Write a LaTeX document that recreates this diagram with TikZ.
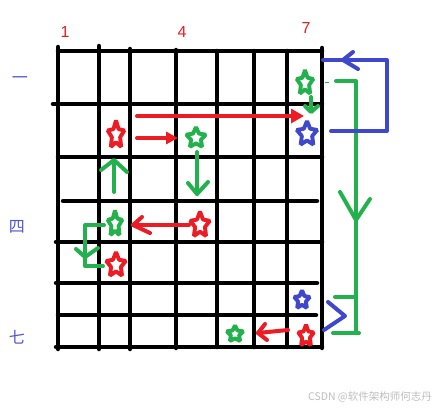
\documentclass[tikz,border=0pt]{standalone}
\usepackage{fontspec}
\setmainfont{Liberation Sans}
\newfontfamily\cjk{Noto Sans CJK SC}
\usetikzlibrary{shapes.geometric,arrows.meta}
\definecolor{pred}{RGB}{237,28,36}
\definecolor{pgreen}{RGB}{34,177,76}
\definecolor{pblue}{RGB}{63,72,204}
\definecolor{lblue}{RGB}{80,88,208}
\definecolor{wm}{RGB}{190,190,190}
\begin{document}
\begin{tikzpicture}[x=1pt,y=-1pt,
  gridline/.style={line width=4.5pt, line cap=round},
  pen/.style={line width=4pt, line cap=round, line join=round},
  st/.style={star, star points=5, star point ratio=2.0, minimum size=20pt, inner sep=0pt, draw, line width=3.9pt, line join=bevel, transform shape},
  num/.style={text=pred, font=\fontsize{16}{16}\selectfont},
  cn/.style={text=lblue, font=\cjk\fontsize{16}{16}\selectfont}]
\fill[white] (0,0) rectangle (433,410);
\useasboundingbox (0,0) rectangle (433,410);
% grid verticals
\draw[gridline] (58,47) -- (58,349);
\draw[gridline] (99,46) -- (99,349);
\draw[gridline] (130,49) -- (130,349);
\draw[gridline] (176,50) -- (176,348);
\draw[gridline] (217,51) -- (217,347);
\draw[gridline] (254,51) -- (254,347);
\draw[gridline] (287,51) -- (287,347);
\draw[gridline] (322,48) -- (322,348);
% grid horizontals
\draw[gridline] (58,51) -- (322,51);
\draw[gridline] (53,104) -- (322,104);
\draw[gridline] (58,157) -- (322,157);
\draw[gridline] (63,201) -- (317,201);
\draw[gridline] (56,242) -- (322,242);
\draw[gridline] (56,283) -- (317,283);
\draw[gridline] (58,315) -- (316,315);
\draw[gridline] (56,347) -- (322,347);
% labels
\node[num] (n1) at (65,32) {1};
\node[num] (n4) at (182,32) {4};
\node[num] (n7) at (306,28) {7};
\node[cn] (c1) at (20,80) {一};
\node[cn] (c4) at (17,227) {四};
\node[cn] (c7) at (17,337) {七};
% stars
\node[st, pgreen, xscale=0.87, yscale=1.3] (g1) at (305,83) {};
\node[st, pblue, xscale=1.08, yscale=1.3] (b1) at (307,134) {};
\node[st, pred, xscale=0.87, yscale=1.46] (r1) at (116,135) {};
\node[st, pgreen, xscale=1.03, yscale=1.08] (g2) at (196,138) {};
\node[st, pgreen, xscale=0.76, yscale=1.35] (g3) at (115,224) {};
\node[st, pred, xscale=1.03, yscale=1.35] (r2) at (200,225) {};
\node[st, pred, xscale=1.03, yscale=1.3] (r3) at (116,265) {};
\node[st, pblue, xscale=0.82, yscale=0.97] (b2) at (302,300) {};
\node[st, pred, xscale=0.82, yscale=1.13] (r4) at (306,336) {};
\node[st, pgreen, xscale=0.87, yscale=0.86] (g4) at (235,334) {};
% red arrows
\draw[pen, pred, -{Triangle[length=13pt,width=14pt]}] (137,116) -- (304,116);
\draw[pen, pred, -{Triangle[length=12pt,width=12pt]}] (137,138) -- (178,138);
\draw[pen, pred] (189,225) -- (133,225);
\draw[pen, pred] (142,217) -- (133,225) -- (150,233);
\draw[pen, pred] (288,330) -- (258,333);
\draw[pen, pred] (265,324) -- (258,333) -- (267,340);
% green arrows
\draw[pen, pgreen] (114,192) -- (114,161);
\draw[pen, pgreen] (101,170) -- (114,160) -- (127,172);
\draw[pen, pgreen] (197,152) -- (197,194);
\draw[pen, pgreen] (188,183) -- (197,194) -- (208,182);
\draw[pen, pgreen] (311,97) -- (311,111);
\draw[pen, pgreen] (305,106) -- (311,112) -- (318,106);
\draw[pen, pgreen] (104,225) -- (85,225) -- (85,266) -- (103,266);
\draw[pen, pgreen] (76,249) -- (85,257) -- (98,248);
\draw[line width=1pt, pgreen] (325,82) -- (329,82);
\draw[pen, pgreen] (336,81) -- (356,81) -- (356,333);
\draw[pen, pgreen] (340,192) -- (356,220) -- (370,199);
\draw[pen, pgreen] (335,297) -- (356,297);
\draw[pen, pgreen] (333,333) -- (359,333);
% blue
\draw[pen, pblue] (323,60) -- (387,60) -- (387,131) -- (331,131);
\draw[pen, pblue] (353,52) -- (343,60) -- (358,69);
\draw[pen, pblue] (328,302) -- (345,316) -- (324,330);
% watermark
\node[text=wm, font=\cjk\fontsize{10.5}{10.5}\selectfont] (wm) at (370,397) {CSDN @软件架构师何志丹};
\end{tikzpicture}
\end{document}
